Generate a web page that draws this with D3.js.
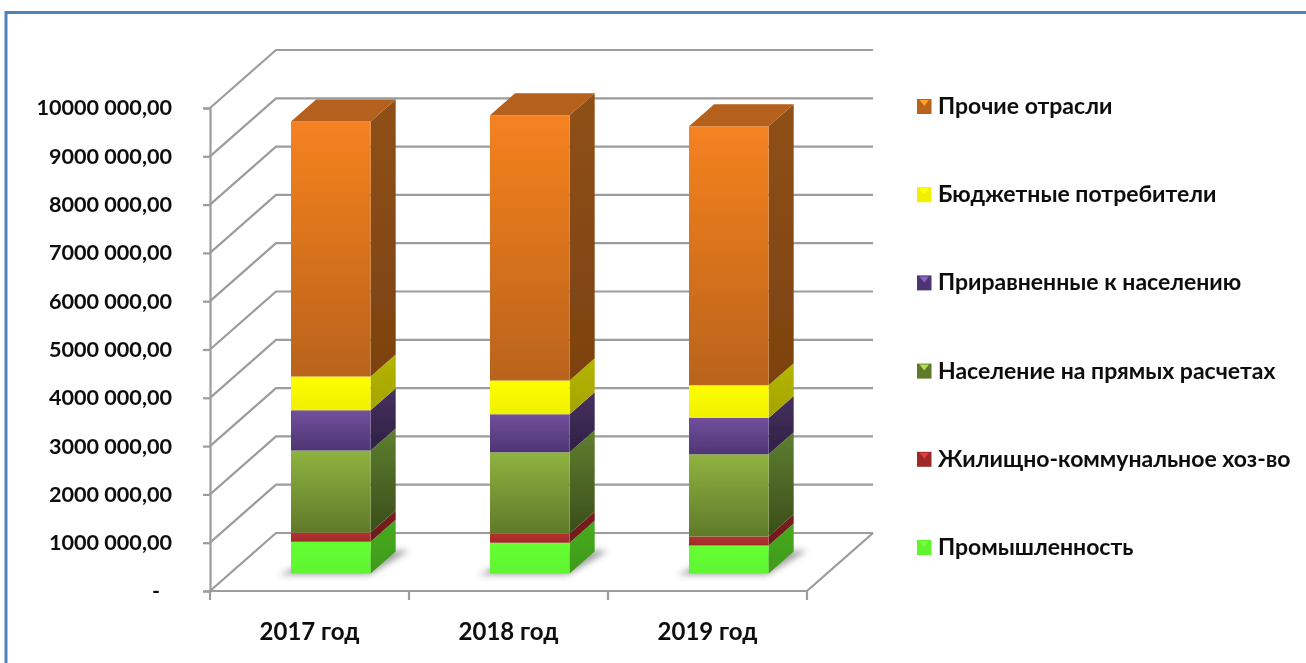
<!DOCTYPE html>
<html><head><meta charset="utf-8">
<script src="https://cdnjs.cloudflare.com/ajax/libs/d3/7.9.0/d3.min.js"></script>
<style>html,body{margin:0;padding:0;background:#fff;overflow:hidden}svg{display:block}
text{font-family:Lato,"Open Sans","Noto Sans",sans-serif;font-weight:700;fill:#0a0a0a}</style>
</head><body><script>
const categories = ["2017 год","2018 год","2019 год"];
const seriesNames = ["Промышленность","Жилищно-коммунальное хоз-во","Население на прямых расчетах","Приравненные к населению","Бюджетные потребители","Прочие отрасли"];
const industry  = [660000,640000,580000];
const utilities = [190000,190000,190000];
const direct    = [1700000,1680000,1700000];
const equated   = [830000,790000,750000];
const budget    = [700000,700000,680000];
const other     = [5280000,5490000,5360000];
const yTicks = [0,1000000,2000000,3000000,4000000,5000000,6000000,7000000,8000000,9000000,10000000];
const yTickLabels = ["-","1000 000,00","2000 000,00","3000 000,00","4000 000,00","5000 000,00","6000 000,00","7000 000,00","8000 000,00","9000 000,00","10000 000,00"];
const seriesValues = [industry,utilities,direct,equated,budget,other];
const frontTop = ["#66ff33","#b8322f","#8fb340","#71509c","#ffff00","#f68220"];
const frontBot = ["#5ff52f","#9c2b2a","#5f7a2a","#4e3574","#f0f000","#b9631b"];
const sideTop  = ["#47ab20","#7d1f1f","#5f7f30","#46315f","#b5b500","#8f5016"];
const sideBot  = ["#3f9a1c","#6a1a1a","#3a4d1a","#2f2045","#a3a300","#7c4210"];
const topFace = "#b5601a";
const gridColor = "#9c9c9c";

const W=1306,H=663;
const svg=d3.select("body").append("svg").attr("width",W).attr("height",H);
const defs=svg.append("defs");
defs.append("filter").attr("id","soft").attr("x","-5%").attr("y","-5%").attr("width","110%").attr("height","110%")
  .append("feGaussianBlur").attr("stdDeviation",0.55);
defs.append("filter").attr("id","shadow").attr("x","-30%").attr("y","-60%").attr("width","160%").attr("height","220%")
  .append("feGaussianBlur").attr("stdDeviation",3);
function grad(id,a,b){const g=defs.append("linearGradient").attr("id",id).attr("x1",0).attr("y1",0).attr("x2",0).attr("y2",1);
  g.append("stop").attr("offset",0).attr("stop-color",a);g.append("stop").attr("offset",1).attr("stop-color",b);}
seriesNames.forEach((n,i)=>{grad("f"+i,frontTop[i],frontBot[i]);grad("s"+i,sideTop[i],sideBot[i]);});

svg.append("rect").attr("x",6).attr("y",12.5).attr("width",W+20).attr("height",H+20)
  .attr("fill","#fff").attr("stroke","#4f81bd").attr("stroke-width",3);

const root=svg.append("g").attr("filter","url(#soft)");
const x=d3.scaleBand().domain(categories).range([210,807]);
const y=d3.scaleLinear().domain([0,10000000]).range([591,108]);
const dx=d3.scaleLinear().domain([0,1]).range([0,66]);
const dy=d3.scaleLinear().domain([0,1]).range([0,-58]);
const P=(px,v,t)=>[px+dx(t),y(v)+dy(t)];
const poly=pts=>pts.map(p=>p.join(",")).join(" ");
const line=d3.line();

// walls and gridlines
const grid=root.append("g").attr("fill","none").attr("stroke",gridColor).attr("stroke-width",2.2);
yTicks.forEach(v=>{
  grid.append("path").attr("d",line([P(210,v,0),P(210,v,1),P(807,v,1)]));
});
grid.append("path").attr("d",line([P(807,0,1),P(807,0,0),P(210,0,0)]));

// axes
const yAxis=d3.axisLeft(y).tickValues(yTicks).tickSize(7).tickPadding(0)
  .tickFormat(v=>yTickLabels[yTicks.indexOf(v)]);
const gy=root.append("g").attr("transform","translate(210,0)").call(yAxis);
gy.select(".domain").attr("stroke",gridColor).attr("stroke-width",2.2);
gy.selectAll(".tick line").attr("stroke",gridColor).attr("stroke-width",2.2);
gy.selectAll(".tick text").attr("x",-38).attr("font-size",21.6).attr("fill","#0a0a0a");
gy.selectAll(".tick").filter(v=>v===0).select("text").attr("x",-50);

const edges=[...categories.map(c=>x(c)),x.range()[1]];
root.append("g").selectAll("line").data(edges).join("line")
  .attr("x1",d=>d).attr("x2",d=>d).attr("y1",y(0)).attr("y2",y(0)+9)
  .attr("stroke",gridColor).attr("stroke-width",2.2);
const xAxis=d3.axisBottom(x).tickSize(0).tickPadding(32);
const gx=root.append("g").attr("transform",`translate(0,${y(0)})`).call(xAxis);
gx.select(".domain").remove();
gx.selectAll(".tick text").attr("font-size",24).attr("fill","#0a0a0a");

// bars
const t0=0.30,t1=0.68;
const bw=x.bandwidth()*0.4;
const bars=root.append("g");
categories.forEach((c,ci)=>{
  const xl=x(c)+(x.bandwidth()-bw)/2+1.5, xr=xl+bw;
  bars.append("polygon").attr("points",poly([P(xl-10,0,t0-0.02),P(xr,0,t0-0.02),P(xr+12,0,t1+0.02),P(xl+14,0,t1+0.02)]))
    .attr("fill","#555").attr("opacity",0.55).attr("filter","url(#shadow)");
  let acc=0;
  seriesValues.forEach((vals,si)=>{
    const v0=acc,v1=acc+vals[ci];acc=v1;
    bars.append("polygon").attr("points",poly([P(xr,v0,t0),P(xr,v0,t1),P(xr,v1,t1),P(xr,v1,t0)])).attr("fill",`url(#s${si})`);
    bars.append("polygon").attr("points",poly([P(xl,v0,t0),P(xr,v0,t0),P(xr,v1,t0),P(xl,v1,t0)])).attr("fill",`url(#f${si})`);
  });
  bars.append("polygon").attr("points",poly([P(xl,acc,t0),P(xr,acc,t0),P(xr,acc,t1),P(xl,acc,t1)])).attr("fill",topFace);
});

// legend (top to bottom: reversed stack order)
const legendY=d3.scalePoint().domain(d3.range(6)).range([106,547]);
const leg=root.append("g").selectAll("g").data(seriesNames.slice().reverse()).join("g")
  .attr("transform",(d,i)=>`translate(917,${legendY(i)})`);
leg.append("rect").attr("x",0).attr("y",-7).attr("width",14.5).attr("height",15).attr("fill",(d,i)=>frontBot[5-i]);
leg.append("path").attr("d","M2.5,-6L12,-6L7.2,0Z").attr("fill",(d,i)=>d3.color(frontTop[5-i]).brighter(0.6));
leg.append("text").attr("x",21).attr("dy","0.35em").attr("font-size",23).text(d=>d);
</script></body></html>
